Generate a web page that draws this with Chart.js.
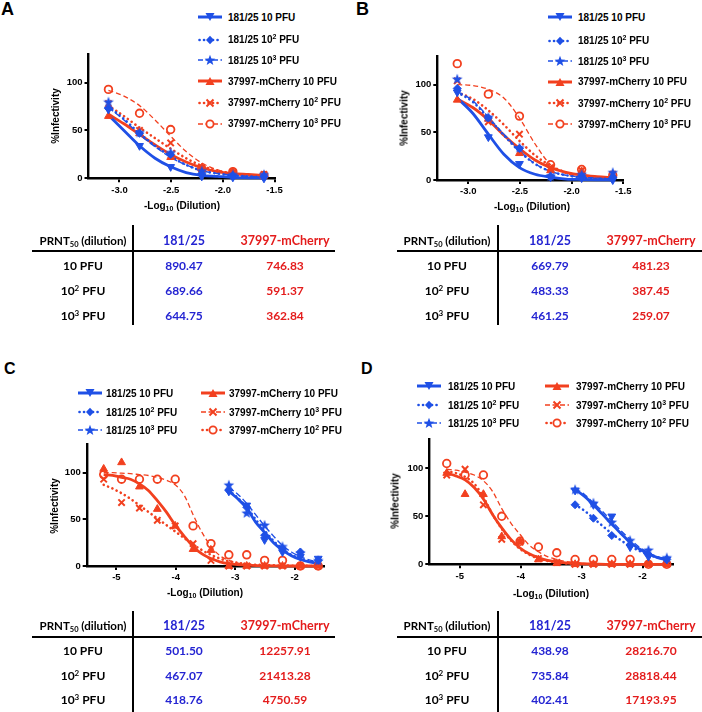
<!DOCTYPE html>
<html>
<head>
<meta charset="utf-8">
<script src="https://cdn.jsdelivr.net/npm/chart.js@4.4.1/dist/chart.umd.min.js"></script>
<style>
  body { margin: 0; background: #fff; }
  #fig { position: relative; width: 702px; height: 712px; overflow: hidden; font-family: "Liberation Sans", Arial, sans-serif; color: #000; }
  #fig canvas { position: absolute; }
  .plbl { position: absolute; font-weight: bold; line-height: 18px; }
  .leg { position: absolute; height: 12px; display: flex; align-items: center; font-weight: bold; font-size: 10px; white-space: nowrap; z-index: 2; }
  .leg svg { flex: none; }
  .leg sup, .axt sub { line-height: 0; }
  .leg sup { font-size: 7px; vertical-align: 4px; }
  .axt { position: absolute; font-weight: bold; font-size: 10px; white-space: nowrap; transform: translate(-50%, -50%); }
  .axt sub { font-size: 7px; vertical-align: -2px; }
  .axt.yt { transform: translate(-50%, -50%) rotate(-90deg); }
  .tc { position: absolute; font-family: Lato, "Liberation Sans", sans-serif; font-weight: bold; font-size: 12px; white-space: nowrap; transform: translate(-50%, -50%); }
  .tc.h { font-size: 12.5px; }
  .tc.p { font-size: 11.5px; }
  .tc sup { font-size: 8px; vertical-align: 4px; line-height: 0; }
  .tc sub { font-size: 7.5px; vertical-align: -2px; line-height: 0; }
  .tl { position: absolute; background: #000; }
</style>
</head>
<body>
<div id="fig"></div>
<script>
// x positions: log10 of the dilutions 1:40 ... 1:163840
const xShort = [-3.107, -2.806, -2.505, -2.204, -1.903, -1.602];
const xLong = [-5.214, -4.913, -4.612, -4.311, -4.010, -3.709, -3.408, -3.107, -2.806, -2.505, -2.204, -1.903, -1.602];
const fitShort = [-3.107, -2.957, -2.806, -2.656, -2.505, -2.355, -2.204, -2.054, -1.903, -1.753, -1.602];
const fitLong = [-5.214, -5.064, -4.913, -4.763, -4.612, -4.462, -4.311, -4.161, -4.010, -3.860, -3.709, -3.559, -3.408, -3.258, -3.107, -2.957, -2.806, -2.505, -2.204, -1.903, -1.602];

const ticksShort = [-3.0, -2.5, -2.0, -1.5];
const ticksLong = [-5, -4, -3, -2];
const yTicks = [0, 50, 100];

// Panel A - measured points
const aBlue10 = [72, 34, 12, 2, 1, 0];
const aBlue100 = [73, 47, 25, 5, 3, 2];
const aBlue1000 = [80, 48, 27, 8, 4, 4];
const aRed10 = [65, 47, 22, 11, 7, 3];
const aRed100 = [78, 50, 37, 10, 6, 4];
const aRed1000 = [93, 68, 51, 10, 7, 3];
// Panel A - fitted curves
const aFitBlue10 = [66, 50, 34, 21, 12, 6, 3, 2, 1, 0.5, 0.3];
const aFitBlue100 = [75, 62, 47, 34, 23, 14, 8, 5, 3, 2, 1];
const aFitBlue1000 = [74, 61, 46, 33, 22, 14, 8, 5, 3, 2, 1.5];
const aFitRed10 = [67, 57, 46, 35, 25, 17, 11, 7, 5, 4, 3];
const aFitRed100 = [76, 65, 53, 42, 31, 21, 13, 8, 5, 3, 2];
const aFitRed1000 = [92, 86, 76, 61, 44, 28, 16, 9, 5, 3, 2];

// Panel B
const bBlue10 = [92, 45, 17, 3, 2, 0];
const bBlue100 = [96, 65, 33, 4, 4, 3];
const bBlue1000 = [106, 66, 34, 4, 6, 8];
const bRed10 = [84, 64, 28, 10, 9, 5];
const bRed100 = [104, 61, 48, 13, 10, 6];
const bRed1000 = [122, 90, 67, 16, 11, 5];
const bFitBlue10 = [86, 70, 48, 27, 13, 6, 3, 1, 0.5, 0.2, 0];
const bFitBlue100 = [92, 82, 65, 47, 30, 17, 9, 5, 2.5, 1.5, 1];
const bFitBlue1000 = [93, 83, 66, 48, 31, 17, 9, 5, 3, 2, 1];
const bFitRed10 = [85, 76, 63, 47, 33, 21, 13, 8, 5, 3.5, 2.5];
const bFitRed100 = [92, 85, 73, 58, 41, 26, 15, 8, 5, 3, 2];
const bFitRed1000 = [100, 99, 95, 86, 65, 38, 16, 7, 3, 1.5, 1];

// Panel C
const cBlue10 = [80, 65, 28, 15, 10, 8];
const cBlue100 = [81, 63, 33, 19, 15, 6];
const cBlue1000 = [87, 57, 44, 21, 14, 6];
const cRed10 = [104, 111, 85, 61, 43, 18, 17, 0, 0, 0, 0, 0, 0];
const cRedCross = [93, 68, 62, 49, 43, 24, 6, 0, 0, 0, 0, 0, 0];
const cRedCircle = [98, 93, 93, 93, 93, 43, 24, 12, 12, 6, 6, 0, 0];
const cFitBlue10 = [80, 72, 62, 47, 36, 25, 17, 11, 7, 4.5, 3];
const cFitBlue100 = [81, 73, 63, 50, 38, 27, 18, 12, 8, 5, 3.5];
const cFitBlue1000 = [84, 77, 67, 55, 43, 32, 22, 15, 10, 6.5, 4.5];
const cFitRed10 = [98, 97, 95, 93, 88, 81, 70, 58, 44, 32, 21, 13, 8, 4.5, 2.5, 1.5, 1, 0.3, 0, 0, 0];
const cFitRedCross = [87, 83, 78, 72, 65, 58, 51, 44, 37, 30, 23, 17, 12, 8, 5, 3.5, 2, 1, 0.5, 0.2, 0];
const cFitRedCircle = [100, 100, 99.5, 99, 98, 97, 95, 92, 87, 76, 55, 36, 21, 11, 6, 3, 1.5, 0.5, 0, 0, 0];

// Panel D
const dBlue10 = [77, 62, 50, 18, 8, 5];
const dBlue100 = [62, 48, 30, 20, 10, 5];
const dBlue1000 = [78, 64, 44, 25, 15, 7];
const dRed10 = [95, 73, 73, 29, 24, 5, 1, 0, 0, 0, 0, 0, 0];
const dRedCross = [93, 99, 62, 26, 23, 6, 2, 0, 0, 0, 0, 0, 0];
const dRedCircle = [105, 93, 93, 50, 24, 18, 12, 5, 5, 5, 5, 0, 0];
const dFitBlue10 = [78, 71, 62, 52, 42, 32, 23, 16, 11, 7, 4.5];
const dFitBlue100 = [62, 56, 48, 40, 32, 25, 19, 14, 10, 7, 5];
const dFitBlue1000 = [79, 73, 64, 55, 45, 35, 26, 18, 12, 8, 5.5];
const dFitRed10 = [95, 92, 88, 80, 68, 52, 38, 26, 17, 11, 7, 4, 2.5, 1.5, 1, 0.5, 0.3, 0, 0, 0, 0];
const dFitRedCross = [97, 95, 91, 84, 70, 52, 37, 25, 16, 10, 6, 3.5, 2, 1, 0.5, 0.3, 0.1, 0, 0, 0, 0];
const dFitRedCircle = [99, 98, 96, 93, 87, 76, 58, 43, 31, 20, 13, 8, 5, 3, 2, 1, 0.6, 0.2, 0, 0, 0];

// PRNT50 tables
const rowLabels = ["10 PFU", "10<sup>2</sup> PFU", "10<sup>3</sup> PFU"];
const prntA181 = ["890.47", "689.66", "644.75"];
const prntAmCh = ["746.83", "591.37", "362.84"];
const prntB181 = ["669.79", "483.33", "461.25"];
const prntBmCh = ["481.23", "387.45", "259.07"];
const prntC181 = ["501.50", "467.07", "418.76"];
const prntCmCh = ["12257.91", "21413.28", "4750.59"];
const prntD181 = ["438.98", "735.84", "402.41"];
const prntDmCh = ["28216.70", "28818.44", "17193.95"];

const BLUE = "#1f50e6";
const RED = "#f2401f";
const TBLUE = "#2424d2";
const TRED = "#e41c1c";

const fig = document.getElementById("fig");

function makeStar(color) {
  const c = document.createElement("canvas");
  c.width = 12; c.height = 12;
  const g = c.getContext("2d");
  g.fillStyle = color;
  g.beginPath();
  for (let i = 0; i < 10; i++) {
    const r = i % 2 === 0 ? 5.6 : 2.4;
    const a = -Math.PI / 2 + i * Math.PI / 5;
    g.lineTo(6 + r * Math.cos(a), 6.4 + r * Math.sin(a));
  }
  g.closePath();
  g.fill();
  return c;
}
const starBlue = makeStar(BLUE);

const ST = {
  b10: { color: BLUE, point: "triangle", rot: 180, r: 4.5, lw: 2.8 },
  b100: { color: BLUE, point: "rectRot", r: 4, lw: 2.6, dash: [0.1, 4.6], cap: "round" },
  b1000: { color: BLUE, point: starBlue, lw: 1.4, dash: [6, 3] },
  r10: { color: RED, point: "triangle", r: 4.5, lw: 2.8 },
  r100: { color: RED, point: "crossRot", r: 4.5, pbw: 2, lw: 2.6, dash: [0.1, 4.6], cap: "round" },
  r1000: { color: RED, point: "circle", fill: "rgba(0,0,0,0)", r: 3.8, pbw: 1.8, lw: 1.3, dash: [5, 3] }
};

function series(xs, ys, fx, fy, st) {
  return [
    {
      data: xs.map((x, i) => ({ x: x, y: ys[i] })),
      showLine: false,
      pointStyle: st.point,
      pointRotation: st.rot || 0,
      pointRadius: st.r || 4,
      pointBackgroundColor: st.fill || st.color,
      pointBorderColor: st.color,
      pointBorderWidth: st.pbw || 1,
      clip: false,
      order: 0
    },
    {
      data: fx.map((x, i) => ({ x: x, y: fy[i] })),
      showLine: true,
      pointRadius: 0,
      borderColor: st.color,
      borderWidth: st.lw,
      borderDash: st.dash || [],
      borderCapStyle: st.cap || "butt",
      cubicInterpolationMode: "monotone",
      clip: false,
      order: 1
    }
  ];
}

function panel(p) {
  const c = document.createElement("canvas");
  c.width = p.cw; c.height = p.ch;
  c.style.left = p.cx + "px"; c.style.top = p.cy + "px";
  fig.appendChild(c);
  const yW = p.left - p.cx;
  const xH = p.cy + p.ch - p.bottom;
  const tickFont = { family: "Liberation Sans", weight: "bold", size: 9.5 };
  new Chart(c, {
    type: "scatter",
    data: { datasets: p.datasets },
    options: {
      responsive: false,
      animation: false,
      events: [],
      layout: { padding: { top: p.top - p.cy, right: p.cx + p.cw - p.right, left: 0, bottom: 0 } },
      plugins: { legend: { display: false }, tooltip: { enabled: false } },
      scales: {
        x: {
          type: "linear", min: p.xmin, max: p.xmax,
          afterBuildTicks: s => { s.ticks = p.xticks.map(v => ({ value: v })); },
          afterFit: s => { s.height = xH; },
          border: { display: true, color: "#000", width: 2.4 },
          grid: { drawOnChartArea: false, drawTicks: true, tickLength: 4, color: "#000", lineWidth: 2 },
          ticks: { font: tickFont, color: "#000", padding: 2, maxRotation: 0, callback: v => p.xfmt(v) }
        },
        y: {
          type: "linear", min: 0, max: 130,
          afterBuildTicks: s => { s.ticks = yTicks.map(v => ({ value: v })); },
          afterFit: s => { s.width = yW; },
          border: { display: true, color: "#000", width: 2.4 },
          grid: { drawOnChartArea: false, drawTicks: true, tickLength: 4, color: "#000", lineWidth: 2 },
          ticks: { font: tickFont, color: "#000", padding: 2, callback: v => String(v) }
        }
      }
    }
  });
}

function addDiv(cls, html, css) {
  const d = document.createElement("div");
  d.className = cls;
  d.innerHTML = html;
  Object.assign(d.style, css);
  fig.appendChild(d);
  return d;
}

function sampleSvg(it, w) {
  const cx = w / 2;
  let line;
  if (it.ls === "solid") line = `<line x1="0" y1="6" x2="${w}" y2="6" stroke="${it.c}" stroke-width="3"/>`;
  else if (it.ls === "dot") line = `<line x1="1.5" y1="6" x2="${w}" y2="6" stroke="${it.c}" stroke-width="2.6" stroke-dasharray="0.1 4.4" stroke-linecap="round"/>`;
  else line = `<line x1="0" y1="6" x2="${w}" y2="6" stroke="${it.c}" stroke-width="1.5" stroke-dasharray="5 2.5"/>`;
  let m = "";
  if (it.m === "tridown") m = `<polygon points="${cx - 4.5},2 ${cx + 4.5},2 ${cx},10" fill="${it.c}"/>`;
  else if (it.m === "triup") m = `<polygon points="${cx - 4.5},10 ${cx + 4.5},10 ${cx},2" fill="${it.c}"/>`;
  else if (it.m === "diamond") m = `<polygon points="${cx},1.8 ${cx + 4},6 ${cx},10.2 ${cx - 4},6" fill="${it.c}"/>`;
  else if (it.m === "star") {
    const pts = [];
    for (let i = 0; i < 10; i++) {
      const r = i % 2 === 0 ? 5.6 : 2.4;
      const a = -Math.PI / 2 + i * Math.PI / 5;
      pts.push((cx + r * Math.cos(a)).toFixed(2) + "," + (6.4 + r * Math.sin(a)).toFixed(2));
    }
    m = `<polygon points="${pts.join(" ")}" fill="${it.c}"/>`;
  } else if (it.m === "x") m = `<path d="M${cx - 3.5},2.5 L${cx + 3.5},9.5 M${cx + 3.5},2.5 L${cx - 3.5},9.5" stroke="${it.c}" stroke-width="2"/>`;
  else if (it.m === "circle") m = `<circle cx="${cx}" cy="6" r="3.6" fill="#fff" stroke="${it.c}" stroke-width="1.8"/>`;
  return `<svg width="${w}" height="12">${line}${m}</svg>`;
}

function legendItem(it, sx, cy, tx) {
  const w = 24;
  addDiv("leg", sampleSvg(it, w) + `<span style="margin-left:${tx - sx - w}px">${it.t}</span>`,
    { left: sx + "px", top: (cy - 6) + "px" });
}

const legAB = [
  { c: BLUE, ls: "solid", m: "tridown", t: "181/25 10 PFU" },
  { c: BLUE, ls: "dot", m: "diamond", t: "181/25 10<sup>2</sup> PFU" },
  { c: BLUE, ls: "dash", m: "star", t: "181/25 10<sup>3</sup> PFU" },
  { c: RED, ls: "solid", m: "triup", t: "37997-mCherry 10 PFU" },
  { c: RED, ls: "dot", m: "x", t: "37997-mCherry 10<sup>2</sup> PFU" },
  { c: RED, ls: "dash", m: "circle", t: "37997-mCherry 10<sup>3</sup> PFU" }
];
const legCDLeft = legAB.slice(0, 3);
const legCDRight = [
  { c: RED, ls: "solid", m: "triup", t: "37997-mCherry 10 PFU" },
  { c: RED, ls: "dash", m: "x", t: "37997-mCherry 10<sup>3</sup> PFU" },
  { c: RED, ls: "dot", m: "circle", t: "37997-mCherry 10<sup>2</sup> PFU" }
];

function table(t) {
  addDiv("tl", "", { left: (t.vx - 1) + "px", top: t.vy1 + "px", width: "2px", height: (t.vy2 - t.vy1) + "px" });
  addDiv("tl", "", { left: t.hx1 + "px", top: (t.hy - 1) + "px", width: (t.hx2 - t.hx1) + "px", height: "2px" });
  addDiv("tc p", "PRNT<sub>50</sub> (dilution)", { left: t.cols[0] + "px", top: t.hdrY + "px" });
  addDiv("tc h", "181/25", { left: t.cols[1] + "px", top: t.hdrY + "px", color: TBLUE });
  addDiv("tc h", "37997-mCherry", { left: t.cols[2] + "px", top: t.hdrY + "px", color: TRED });
  for (let i = 0; i < 3; i++) {
    addDiv("tc", rowLabels[i], { left: t.cols[0] + "px", top: t.rows[i] + "px" });
    addDiv("tc", t.v181[i], { left: t.cols[1] + "px", top: t.rows[i] + "px", color: TBLUE });
    addDiv("tc", t.vmCh[i], { left: t.cols[2] + "px", top: t.rows[i] + "px", color: TRED });
  }
}

const fmt1 = v => v.toFixed(1);
const fmt0 = v => String(v);
const xTitle = "-Log<sub>10</sub> (Dilution)";

// ---------- Panel A ----------
addDiv("plbl", "A", { left: "1px", top: "0px", fontSize: "18px" });
legAB.forEach((it, i) => legendItem(it, 198, [17, 39.5, 60, 81, 102.5, 123.5][i], 228));
panel({
  cx: 30, cy: 40, cw: 260, ch: 175, left: 88.5, right: 274.5, top: 54, bottom: 178.3,
  xmin: -3.3, xmax: -1.5, xticks: ticksShort, xfmt: fmt1,
  datasets: [
    ...series(xShort, aBlue10, fitShort, aFitBlue10, ST.b10),
    ...series(xShort, aBlue100, fitShort, aFitBlue100, ST.b100),
    ...series(xShort, aBlue1000, fitShort, aFitBlue1000, ST.b1000),
    ...series(xShort, aRed10, fitShort, aFitRed10, ST.r10),
    ...series(xShort, aRed100, fitShort, aFitRed100, ST.r100),
    ...series(xShort, aRed1000, fitShort, aFitRed1000, ST.r1000)
  ]
});
addDiv("axt", xTitle, { left: "182px", top: "205px" });
addDiv("axt yt", "%Infectivity", { left: "55px", top: "116px" });
table({ vx: 133, vy1: 225, vy2: 325, hx1: 32, hx2: 335, hy: 251, cols: [83, 184, 285], hdrY: 240, rows: [265, 290, 315], v181: prntA181, vmCh: prntAmCh });

// ---------- Panel B ----------
addDiv("plbl", "B", { left: "356px", top: "0px", fontSize: "18px" });
legAB.forEach((it, i) => legendItem(it, 548, [17, 40.5, 61, 81.5, 103, 124][i], 578));
panel({
  cx: 380, cy: 40, cw: 260, ch: 175, left: 437.3, right: 623.3, top: 56, bottom: 180,
  xmin: -3.3, xmax: -1.5, xticks: ticksShort, xfmt: fmt1,
  datasets: [
    ...series(xShort, bBlue10, fitShort, bFitBlue10, ST.b10),
    ...series(xShort, bBlue100, fitShort, bFitBlue100, ST.b100),
    ...series(xShort, bBlue1000, fitShort, bFitBlue1000, ST.b1000),
    ...series(xShort, bRed10, fitShort, bFitRed10, ST.r10),
    ...series(xShort, bRed100, fitShort, bFitRed100, ST.r100),
    ...series(xShort, bRed1000, fitShort, bFitRed1000, ST.r1000)
  ]
});
addDiv("axt", xTitle, { left: "532px", top: "206px" });
addDiv("axt yt", "%Infectivity", { left: "404px", top: "118px" });
table({ vx: 498, vy1: 225, vy2: 325, hx1: 397, hx2: 702, hy: 251, cols: [447, 550, 651], hdrY: 240, rows: [265, 290, 315], v181: prntB181, vmCh: prntBmCh });

// ---------- Panel C ----------
addDiv("plbl", "C", { left: "4px", top: "360px", fontSize: "16px" });
legCDLeft.forEach((it, i) => legendItem(it, 78, [393, 412, 430][i], 106));
legCDRight.forEach((it, i) => legendItem(it, 201, [393, 412, 430][i], 229));
panel({
  cx: 30, cy: 430, cw: 310, ch: 170, left: 86.7, right: 324.3, top: 444.7, bottom: 566,
  xmin: -5.5, xmax: -1.5, xticks: ticksLong, xfmt: fmt0,
  datasets: [
    ...series(xShort, cBlue10, fitShort, cFitBlue10, ST.b10),
    ...series(xShort, cBlue100, fitShort, cFitBlue100, ST.b100),
    ...series(xShort, cBlue1000, fitShort, cFitBlue1000, ST.b1000),
    ...series(xLong, cRed10, fitLong, cFitRed10, ST.r10),
    ...series(xLong, cRedCross, fitLong, cFitRedCross, ST.r100),
    ...series(xLong, cRedCircle, fitLong, cFitRedCircle, ST.r1000)
  ]
});
addDiv("axt", xTitle, { left: "205px", top: "592px" });
addDiv("axt yt", "%Infectivity", { left: "54px", top: "506px" });
table({ vx: 133, vy1: 611, vy2: 712, hx1: 32, hx2: 335, hy: 637, cols: [83, 184, 285], hdrY: 625, rows: [650, 675, 699], v181: prntC181, vmCh: prntCmCh });

// ---------- Panel D ----------
addDiv("plbl", "D", { left: "361px", top: "360px", fontSize: "16px" });
legCDLeft.forEach((it, i) => legendItem(it, 417, [386, 405, 423][i], 448));
legCDRight.forEach((it, i) => legendItem(it, 545, [386, 405, 423][i], 576));
panel({
  cx: 372, cy: 425, cw: 320, ch: 170, left: 429.3, right: 673, top: 439.5, bottom: 564.3,
  xmin: -5.5, xmax: -1.5, xticks: ticksLong, xfmt: fmt0,
  datasets: [
    ...series(xShort, dBlue10, fitShort, dFitBlue10, ST.b10),
    ...series(xShort, dBlue100, fitShort, dFitBlue100, ST.b100),
    ...series(xShort, dBlue1000, fitShort, dFitBlue1000, ST.b1000),
    ...series(xLong, dRed10, fitLong, dFitRed10, ST.r10),
    ...series(xLong, dRedCross, fitLong, dFitRedCross, ST.r100),
    ...series(xLong, dRedCircle, fitLong, dFitRedCircle, ST.r1000)
  ]
});
addDiv("axt", xTitle, { left: "551px", top: "593px" });
addDiv("axt yt", "%Infectivity", { left: "395px", top: "501px" });
table({ vx: 498, vy1: 611, vy2: 712, hx1: 397, hx2: 702, hy: 637, cols: [447, 550, 651], hdrY: 625, rows: [650, 675, 699], v181: prntD181, vmCh: prntDmCh });
</script>
</body>
</html>
